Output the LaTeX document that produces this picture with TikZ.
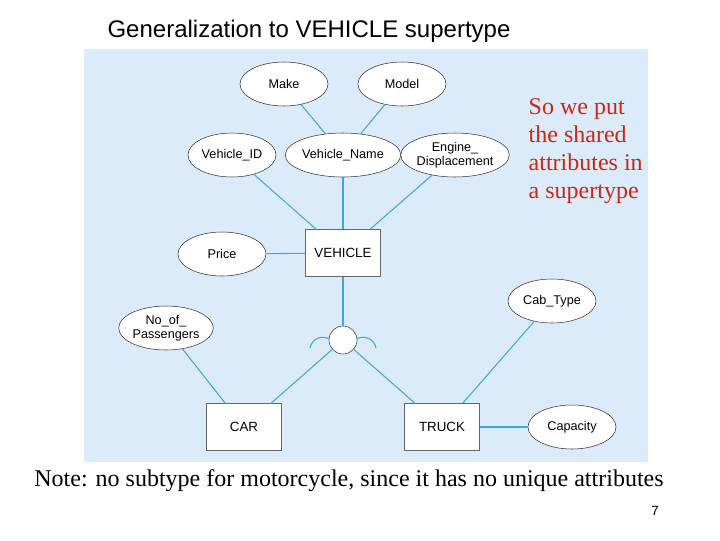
\documentclass[tikz,border=0pt]{standalone}
\usepackage{fontspec}
\setmainfont{Liberation Serif}
\setsansfont{Liberation Sans}
\usetikzlibrary{shapes.geometric}
\begin{document}
\begin{tikzpicture}[x=0.75pt,y=-0.75pt,
  attr/.style={draw=black!80,fill=white,ellipse,minimum width=66pt,minimum height=33pt,inner sep=0pt,font=\sffamily\fontsize{9.5}{10.5}\selectfont,align=center},
  ent/.style={draw=black!60,fill=white,minimum width=56pt,minimum height=35pt,font=\sffamily\fontsize{10}{11}\selectfont},
  conn/.style={draw={rgb,255:red,60;green,170;blue,220},line width=0.8pt}]
\definecolor{panel}{RGB}{220,235,250}
\definecolor{lnk}{RGB}{60,170,220}
\useasboundingbox (0,0) rectangle (720,540);
\fill[panel] (84,49) rectangle (648,462);
\node[font=\sffamily\fontsize{18}{21}\selectfont] (title) at (309,31) {Generalization to VEHICLE supertype};
\node[ent] (veh) at (343,253) {VEHICLE};
\node[ent] (car) at (244,427) {CAR};
\node[ent] (truck) at (442,427) {TRUCK};
\node[draw=black!80,fill=white,circle,minimum size=21pt,inner sep=0pt] (d) at (343,340) {};
\node[attr] (make) at (284,84) {Make};
\node[attr] (model) at (402,84) {Model};
\node[attr] (vid) at (232,155) {Vehicle\_ID};
\node[attr] (vname) at (343,155) {Vehicle\_Name};
\node[attr] (eng) at (455,155) {Engine\_\\Displacement};
\node[attr] (price) at (222,254) {Price};
\node[attr] (cab) at (552,301) {Cab\_Type};
\node[attr] (pass) at (166,328) {No\_of\_\\Passengers};
\node[attr] (cap) at (572,427) {Capacity};
\foreach \a/\b in {make/vname,model/vname,vid/veh,vname/veh,eng/veh,price/veh,veh/d,d/car,d/truck,pass/car,cab/truck,cap/truck}
  \draw[conn] (\a) -- (\b);
\draw[lnk,line width=0.8pt] (310,348) arc[start angle=190,end angle=300,radius=13];
\draw[lnk,line width=0.8pt] (376,348) arc[start angle=-10,end angle=-120,radius=13];
\node[text={rgb,255:red,200;green,40;blue,20},font=\fontsize{18}{21}\selectfont,align=left,anchor=north west] (note1) at (524,94) {So we put\\the shared\\attributes in\\a supertype};
\node[font=\fontsize{18}{21}\selectfont] (note2) at (349,481) {Note: no subtype for motorcycle, since it has no unique attributes};
\node[font=\sffamily\fontsize{10}{12}\selectfont] (pg) at (655,511) {7};
\end{tikzpicture}
\end{document}
